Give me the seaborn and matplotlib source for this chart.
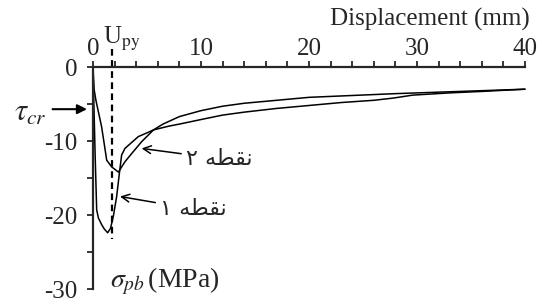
import numpy as np
import pandas as pd
import matplotlib
matplotlib.use("Agg")
import matplotlib.pyplot as plt
import seaborn as sns
from matplotlib.ticker import MultipleLocator

# Point 1 (deep dip), displacement in mm, stress in MPa
disp_p1 = [0, 0.08, 0.2, 0.34, 0.5, 0.8, 1.05, 1.36, 1.62, 1.88, 2.19, 2.44, 2.65, 2.96,
           3.5, 4.2, 5.0, 5.6, 7.0, 8.05, 10.0, 12.0, 14.0, 17.0, 20.0, 23.0, 26.0,
           27.8, 29.6, 33.0, 36.0, 40.0]
stress_p1 = [0, -5, -12, -19.3, -20.4, -21.3, -21.9, -22.4, -21.8, -20.2, -17.5, -14.4, -11.9, -11,
             -10.3, -9.4, -8.9, -8.5, -8.0, -7.7, -7.1, -6.5, -6.1, -5.6, -5.2, -4.8, -4.5,
             -4.2, -3.8, -3.5, -3.3, -3.0]

# Point 2 (shallow dip)
disp_p2 = [0, 0.1, 0.27, 0.8, 1.27, 1.73, 2.35, 2.96, 3.58, 4.5, 5.6, 6.5, 8.0,
           10.0, 12.0, 14.0, 17.0, 20.0, 24.0, 28.0, 32.0, 36.0, 40.0]
stress_p2 = [0, -3, -4.5, -8.1, -12.6, -13.5, -14.2, -12.8, -11.7, -10.1, -8.5, -7.7, -6.7,
             -5.9, -5.3, -4.9, -4.5, -4.1, -3.85, -3.6, -3.4, -3.2, -3.0]

u_py = 1.76
tau_cr = -5.7
x_ticks = [0, 10, 20, 30, 40]
y_ticks = [0, -10, -20, -30]

sns.set_style("ticks")
plt.rcParams["font.family"] = ["Liberation Serif", "DejaVu Sans"]
plt.rcParams["mathtext.fontset"] = "stix"
plt.rcParams["axes.unicode_minus"] = False

fig = plt.figure(figsize=(5.43, 3.04), dpi=100)
ax = fig.add_axes([93 / 543, 1 - 289 / 304, 432 / 543, 222 / 304])

df1 = pd.DataFrame({"disp": disp_p1, "stress": stress_p1})
df2 = pd.DataFrame({"disp": disp_p2, "stress": stress_p2})
sns.lineplot(data=df1, x="disp", y="stress", color="black", lw=1.1, sort=False,
             estimator=None, ax=ax, clip_on=False)
sns.lineplot(data=df2, x="disp", y="stress", color="black", lw=1.1, sort=False,
             estimator=None, ax=ax, clip_on=False)

ax.plot([u_py, u_py], [2.4, -23.2], color="black", lw=1.6, ls=(0, (3, 2)), clip_on=False)

ax.set_xlim(0, 40)
ax.set_ylim(-30, 0)
ax.xaxis.tick_top()
ax.set_xticks(x_ticks)
ax.set_yticks(y_ticks)
ax.set_xticklabels([str(v) for v in x_ticks])
ax.set_yticklabels([str(v) for v in y_ticks])
ax.xaxis.set_minor_locator(MultipleLocator(2))
ax.yaxis.set_minor_locator(MultipleLocator(5))
ax.tick_params(axis="x", which="both", direction="out", length=4, width=1.3,
               labelsize=18, pad=1)
ax.tick_params(axis="y", which="both", direction="out", length=4, width=1.3,
               labelsize=18, pad=7)
ax.set_xlabel("")
ax.set_ylabel("")
for side in ["right", "bottom"]:
    ax.spines[side].set_visible(False)
for side in ["left", "top"]:
    ax.spines[side].set_linewidth(1.6)

ax.text(1.012, 1.215, "Displacement (mm)", transform=ax.transAxes, ha="right",
        va="center", fontsize=18)
ax.text(0.9, 3.2, r"U$_{\mathrm{py}}$", ha="left", va="baseline", fontsize=18)
ax.text(1.6, -29.0, r"$\sigma_{pb}\,$(MPa)", ha="left", va="center", fontsize=20)

ax.annotate("", xy=(-0.3, tau_cr), xytext=(-4.0, tau_cr), annotation_clip=False,
            arrowprops=dict(arrowstyle="-|>", color="black", lw=1.5,
                            mutation_scale=14))
ax.text(-4.3, tau_cr - 0.6, r"$\tau_{cr}$", ha="right", va="center", fontsize=22)

persian = ["\u06F1 \uFEEA\uFEC4\uFED8\uFEE7", "\u06F2 \uFEEA\uFEC4\uFED8\uFEE7"]
ax.annotate(persian[0], xy=(2.5, -17.5), xytext=(6.2, -19.2), ha="left", va="center",
            fontsize=16, family=["DejaVu Sans"], annotation_clip=False,
            arrowprops=dict(arrowstyle="->", color="black", lw=1.1,
                            mutation_scale=14, shrinkA=1, shrinkB=0))
ax.annotate(persian[1], xy=(4.5, -11.0), xytext=(8.6, -12.4), ha="left", va="center",
            fontsize=16, family=["DejaVu Sans"], annotation_clip=False,
            arrowprops=dict(arrowstyle="->", color="black", lw=1.1,
                            mutation_scale=14, shrinkA=1, shrinkB=0))

fig.savefig("out.png", dpi=100)
